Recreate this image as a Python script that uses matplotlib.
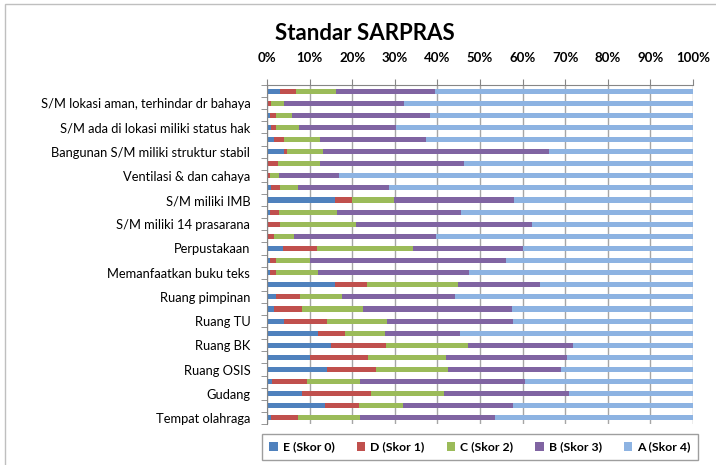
"""Standar SARPRAS: 100% stacked horizontal bar chart."""

import matplotlib

matplotlib.use("Agg")
import matplotlib.pyplot as plt
import numpy as np
from matplotlib.patches import Rectangle

plt.rcParams["font.family"] = ["Lato", "DejaVu Sans"]

# 28 bars, listed top to bottom; only every other bar carries a label
labels = [
    "", "S/M lokasi aman, terhindar dr bahaya",
    "", "S/M ada di lokasi miliki status hak",
    "", "Bangunan S/M miliki struktur stabil",
    "", "Ventilasi & dan cahaya",
    "", "S/M miliki IMB",
    "", "S/M miliki 14 prasarana",
    "", "Perpustakaan",
    "", "Memanfaatkan buku teks",
    "", "Ruang pimpinan",
    "", "Ruang TU",
    "", "Ruang BK",
    "", "Ruang OSIS",
    "", "Gudang",
    "", "Tempat olahraga",
]
series = ["E (Skor 0)", "D (Skor 1)", "C (Skor 2)", "B (Skor 3)", "A (Skor 4)"]
skor_e = [3.1, 0.2, 0.6, 1.0, 1.6, 3.9, 0.0, 0.0, 1.0, 16.0, 0.6, 0.0, 0.0, 3.8,
          0.6, 0.6, 16.0, 2.2, 1.6, 4.0, 12.0, 15.1, 10.0, 14.2, 1.1, 8.1, 13.7, 1.0]
skor_d = [3.7, 0.8, 1.5, 1.1, 2.3, 0.9, 2.5, 0.6, 2.0, 3.9, 2.2, 3.0, 1.6, 7.9,
          1.5, 1.4, 7.4, 5.6, 6.5, 10.1, 6.4, 12.9, 13.8, 11.4, 8.3, 16.4, 7.8, 6.2]
skor_c = [9.4, 3.1, 3.8, 5.5, 8.5, 8.4, 9.9, 2.2, 4.3, 10.0, 13.7, 17.9, 4.7, 22.5,
          7.9, 10.0, 21.4, 9.9, 14.5, 14.0, 9.3, 19.2, 18.2, 16.8, 12.5, 17.0, 10.4, 14.6]
skor_b = [23.3, 28.1, 32.3, 22.7, 24.9, 52.9, 33.8, 14.2, 21.3, 28.1, 29.1, 41.4, 33.4, 26.0,
          46.2, 35.5, 19.3, 26.5, 34.8, 29.6, 17.6, 24.7, 28.5, 26.7, 38.6, 29.3, 25.8, 31.8]
skor_a = [60.5, 67.8, 61.8, 69.7, 62.7, 33.9, 53.8, 83.0, 71.4, 42.0, 54.4, 37.7, 60.3, 39.8,
          43.8, 52.5, 35.9, 55.8, 42.6, 42.3, 54.7, 28.1, 29.5, 30.9, 39.5, 29.2, 42.3, 46.4]
colors = ["#4F81BD", "#C0504D", "#9BBB59", "#8064A2", "#8DB3E2"]

values = np.array([skor_e, skor_d, skor_c, skor_b, skor_a], dtype=float)
values = values / values.sum(axis=0) * 100

fig = plt.figure(figsize=(7.16, 4.65), dpi=100)
ax = fig.add_axes([267 / 716, 1 - 424 / 465, 426 / 716, 339 / 465])

y = np.arange(len(labels))
left = np.zeros(len(labels))
for name, vals, color in zip(series, values, colors):
    ax.barh(y, vals, left=left, height=0.42, color=color, label=name, zorder=2)
    left += vals

ax.set_xlim(0, 100)
ax.set_ylim(len(labels) - 0.5, -0.5)
ax.xaxis.tick_top()
ax.set_xticks(np.arange(0, 101, 10))
ax.set_xticklabels([f"{v}%" for v in range(0, 101, 10)], fontsize=9.5,
                   fontweight="bold")
ax.tick_params(axis="x", length=4, color="#868686", pad=11)
ax.grid(axis="x", color="#A6A6A6", linewidth=1, zorder=0)

shown = [i for i, lab in enumerate(labels) if lab]
ax.set_yticks(shown)
ax.set_yticklabels([labels[i] for i in shown], fontsize=9.3)
ax.set_yticks(np.arange(-0.5, len(labels), 1), minor=True)
ax.tick_params(axis="y", which="major", length=0, pad=12)
ax.tick_params(axis="y", which="minor", length=4, color="#868686")

for side in ("right", "bottom"):
    ax.spines[side].set_visible(False)
for side in ("left", "top"):
    ax.spines[side].set_color("#868686")

fig.text(0.51, 1 - 33 / 465, "Standar SARPRAS", ha="center", va="center",
         fontsize=16, fontweight="bold")

leg = fig.legend(loc="center", bbox_to_anchor=(480 / 716, 1 - 447 / 465),
                 ncol=5, frameon=True, fancybox=False, edgecolor="#868686",
                 handlelength=0.7, handleheight=0.7, handletextpad=0.4,
                 columnspacing=1.8, borderpad=0.6,
                 prop={"size": 8.8, "weight": "bold"})
leg.get_frame().set_linewidth(1)

fig.patches.append(Rectangle((5 / 716, -0.1), 1.0, 1.1 - 4 / 465,
                             transform=fig.transFigure, fill=False,
                             edgecolor="#BFBFBF", linewidth=1))

fig.savefig("out.png", dpi=100)
